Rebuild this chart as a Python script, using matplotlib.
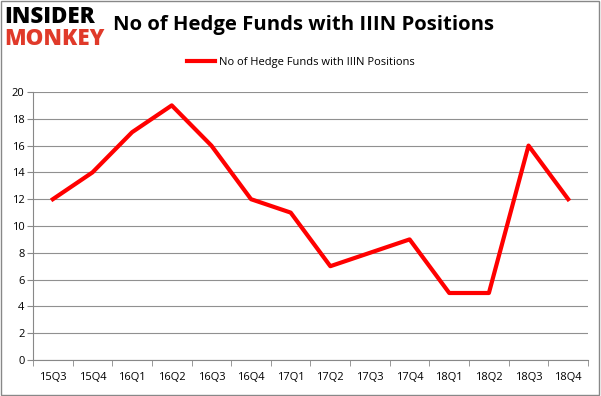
import numpy as np
import matplotlib.pyplot as plt
from matplotlib.patches import Rectangle

quarters = ['15Q3', '15Q4', '16Q1', '16Q2', '16Q3', '16Q4', '17Q1',
            '17Q2', '17Q3', '17Q4', '18Q1', '18Q2', '18Q3', '18Q4']
funds = [12, 14, 17, 19, 16, 12, 11, 7, 8, 9, 5, 5, 16, 12]
series_name = 'No of Hedge Funds with IIIN Positions'

plt.rcParams['font.family'] = ['Open Sans', 'DejaVu Sans']

fig = plt.figure(figsize=(6.01, 3.96), dpi=100)
ax = fig.add_axes([33 / 601, 1 - 360 / 396, 555 / 601, 268 / 396])

x = np.arange(len(quarters))
ax.plot(x, funds, color='#ff0000', lw=3, label=series_name)

ax.set_xlim(-0.5, len(quarters) - 0.5)
ax.set_ylim(0, 20)
ax.set_yticks(range(0, 21, 2))
ax.set_xticks(x)
ax.set_xticklabels(quarters, fontsize=8)
ax.set_xticks(np.arange(-0.5, len(quarters), 1), minor=True)
ax.tick_params(axis='x', which='major', length=0, pad=9)
ax.tick_params(axis='x', which='minor', length=4, color='#888888')
ax.tick_params(axis='y', length=4, labelsize=8, color='#888888', pad=2)
ax.grid(axis='y', color='#909090', lw=0.8)
ax.set_axisbelow(True)
for side in ['top', 'right']:
    ax.spines[side].set_visible(False)
ax.spines['left'].set_color('#888888')
ax.spines['bottom'].set_color('#888888')

fig.legend(loc='center', bbox_to_anchor=(0.5, 1 - 62 / 396), frameon=False,
           fontsize=8, handlelength=2.6, handletextpad=0.3)

fig.text(113 / 601, 1 - 25 / 396, 'No of Hedge Funds with IIIN Positions',
         fontsize=14.6, fontweight='bold', va='center', ha='left')
fig.text(4 / 601, 1 - 17 / 396, 'INSIDER', fontsize=16, fontweight='heavy',
         va='center', ha='left', color='black')
fig.text(4 / 601, 1 - 39 / 396, 'MONKEY', fontsize=16, fontweight='heavy',
         va='center', ha='left', color='#e03a2a')

fig.patches.append(Rectangle((0.002, 0.003), 0.995, 0.994, transform=fig.transFigure,
                             fill=False, edgecolor='#888888', lw=1))

fig.savefig('out.png', dpi=100)
